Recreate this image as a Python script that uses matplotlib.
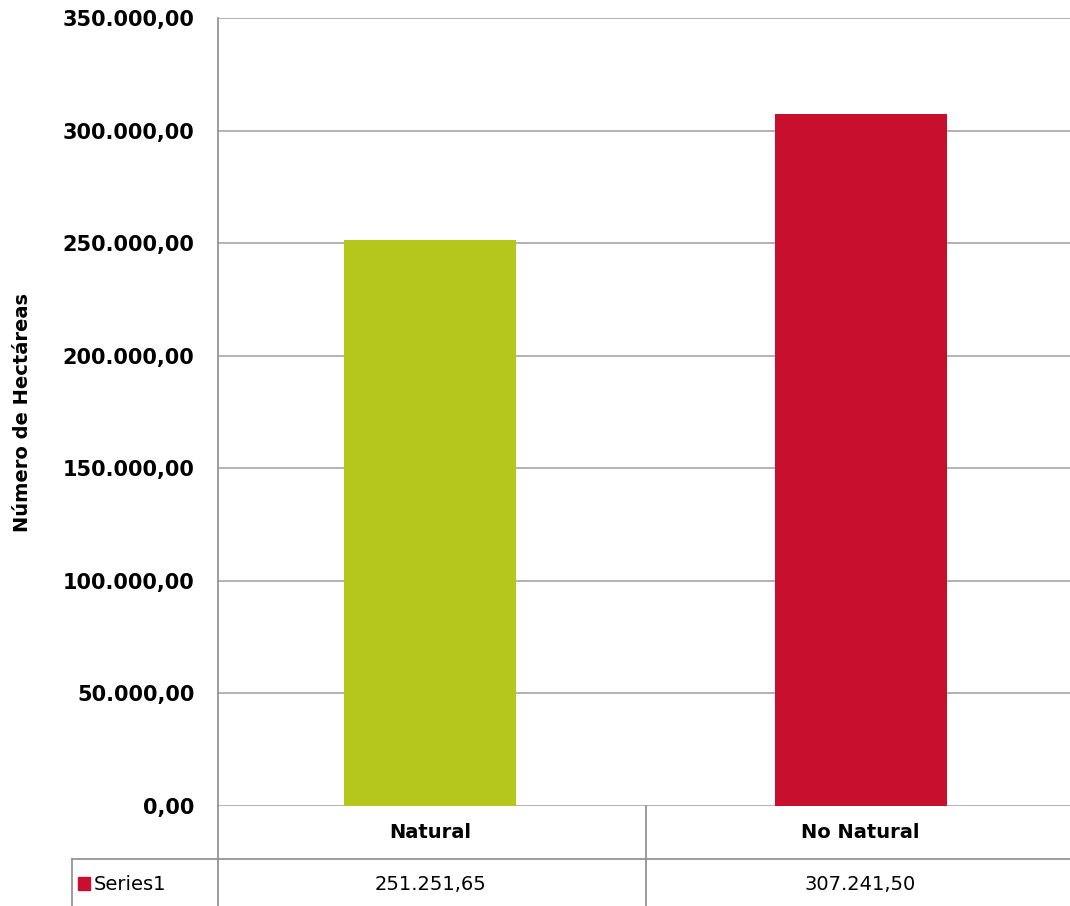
import matplotlib.pyplot as plt
from matplotlib.lines import Line2D
from matplotlib.ticker import FuncFormatter

categories = ['Natural', 'No Natural']
hectareas = [251251.65, 307241.50]
bar_colors = ['#B5C71A', '#C8102E']
series_name = 'Series1'
y_ticks = [0, 50000, 100000, 150000, 200000, 250000, 300000, 350000]


def es_num(v, pos=None):
    # 251,251.65 -> 251.251,65
    s = f'{v:,.2f}'
    return s.replace(',', '#').replace('.', ',').replace('#', '.')


W, H = 1070, 906
fig = plt.figure(figsize=(W / 100, H / 100), dpi=100)
fig.patch.set_facecolor('white')

# plot area in pixels
left, right, top, bottom = 218, 1070, 18, 806
ax = fig.add_axes([left / W, (H - bottom) / H, (right - left) / W, (bottom - top) / H])

ax.bar(categories, hectareas, width=0.40, color=bar_colors, zorder=3)

ax.set_ylim(0, 350000)
ax.set_xlim(-0.494, 1.487)
ax.set_yticks(y_ticks)
ax.yaxis.set_major_formatter(FuncFormatter(es_num))
ax.grid(axis='y', color='#A6A6A6', linewidth=1.2, zorder=0)
ax.tick_params(axis='y', length=0, pad=17, labelsize=15, labelcolor='black')
for lbl in ax.get_yticklabels():
    lbl.set_fontweight('bold')
ax.set_xticks([])

for s in ['top', 'right', 'bottom']:
    ax.spines[s].set_visible(False)
ax.spines['left'].set_color('#8C8C8C')
ax.spines['left'].set_linewidth(1.2)

ax.set_ylabel('Número de Hectáreas', fontsize=14, fontweight='bold', labelpad=22)

# data table under the plot
gc = '#8C8C8C'
def fig_line(x0, y0, x1, y1):
    fig.add_artist(Line2D([x0 / W, x1 / W], [1 - y0 / H, 1 - y1 / H],
                          color=gc, linewidth=1.2))

row_split = 859
tbl_left = 72
div_x = ax.transData.transform((0.5, 0))[0]
fig_line(left, bottom, left, H)
fig_line(div_x, bottom, div_x, H)
fig_line(tbl_left, row_split, W, row_split)
fig_line(tbl_left, row_split, tbl_left, H)

for i, (cat, val) in enumerate(zip(categories, hectareas)):
    xp = ax.transData.transform((i, 0))[0] / W
    fig.text(xp, 1 - 832 / H, cat, ha='center', va='center',
             fontsize=14, fontweight='bold')
    fig.text(xp, 1 - 884 / H, es_num(val), ha='center', va='center',
             fontsize=14)

fig.add_artist(plt.Rectangle((78 / W, 1 - 890 / H), 12 / W, 13 / H,
                             color=bar_colors[1], transform=fig.transFigure))
fig.text(94 / W, 1 - 884 / H, series_name, ha='left', va='center', fontsize=14)

fig.savefig('out.png', dpi=100)
